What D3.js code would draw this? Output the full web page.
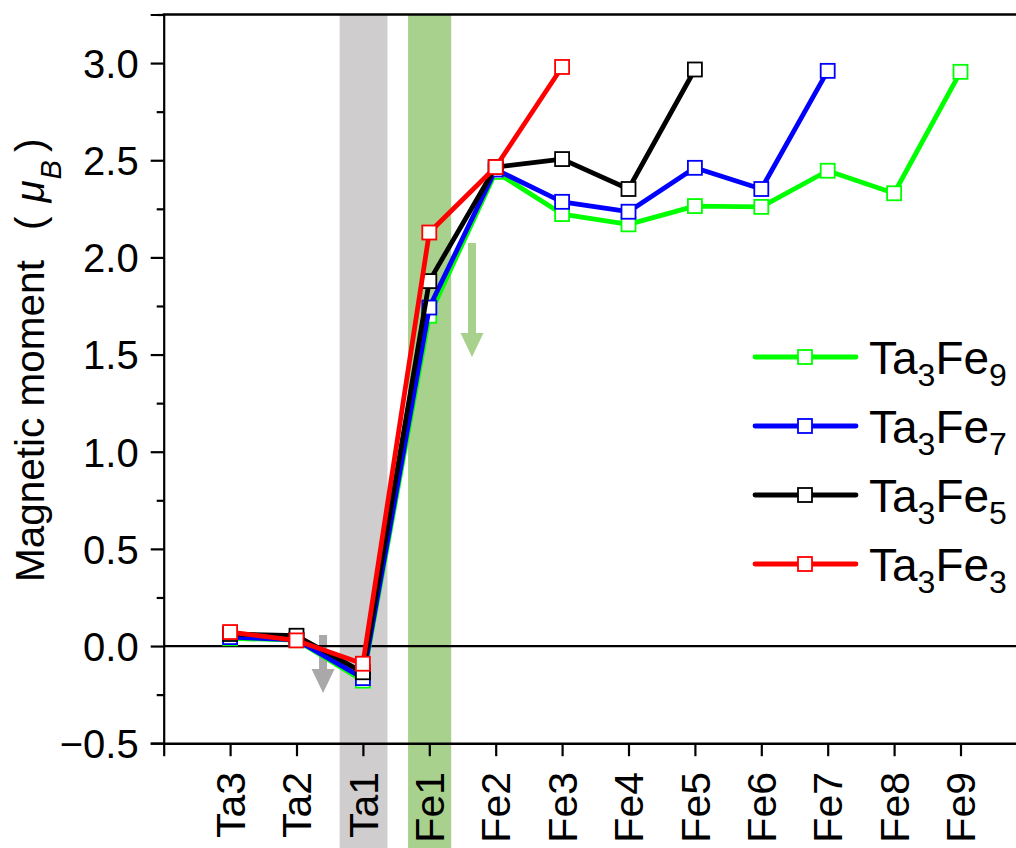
<!DOCTYPE html>
<html>
<head>
<meta charset="utf-8">
<script src="https://cdn.jsdelivr.net/npm/d3@7"></script>
<style>
  html, body { margin: 0; padding: 0; background: #fff; }
  svg { display: block; }
  text { font-family: "Liberation Sans", Arial, Helvetica, sans-serif; fill: #000; }
</style>
</head>
<body>
<svg id="chart" width="1016" height="848"></svg>
<script>
// Atomic sites along the Ta/Fe stack
const categories = ["Ta3", "Ta2", "Ta1", "Fe1", "Fe2", "Fe3", "Fe4", "Fe5", "Fe6", "Fe7", "Fe8", "Fe9"];

// Site-resolved magnetic moments (μB) for each multilayer
const ta3fe9 = [0.040, 0.030, -0.178, 1.700, 2.440, 2.223, 2.170, 2.264, 2.260, 2.446, 2.330, 2.955];
const ta3fe7 = [0.046, 0.032, -0.165, 1.742, 2.452, 2.286, 2.235, 2.461, 2.352, 2.960];
const ta3fe5 = [0.062, 0.053, -0.135, 1.878, 2.465, 2.506, 2.352, 2.967];
const ta3fe3 = [0.072, 0.029, -0.091, 2.128, 2.465, 2.980];

// Legend / drawing order (first drawn at the bottom)
const seriesNames  = ["Ta3Fe9", "Ta3Fe7", "Ta3Fe5", "Ta3Fe3"];
const seriesValues = [ta3fe9, ta3fe7, ta3fe5, ta3fe3];
const seriesSubs   = [["3", "9"], ["3", "7"], ["3", "5"], ["3", "3"]];

// Y axis ticks
const yMajorTicks = [-0.5, 0.0, 0.5, 1.0, 1.5, 2.0, 2.5, 3.0];
const yMinorTicks = [-0.25, 0.25, 0.75, 1.25, 1.75, 2.25, 2.75, 3.25];

// Highlighted interface sites and trend arrows (category index, moment)
const bandSites   = ["Ta1", "Fe1"];
const arrowX      = [1.40, 3.643];
const arrowTop    = [0.057, 2.074];
const arrowTip    = [-0.242, 1.487];

// ---------- styling ----------
const colors     = ["#00ff00", "#0000ff", "#000000", "#ff0000"];
const bandColors = ["#cfcdcd", "#a9d18e"];
const bandHalf   = [[0.35, 0.37], [0.32, 0.33]];
const arrowColors = ["#aaa8a8", "#a9d18e"];

const svg = d3.select("#chart");
const W = 1016, H = 848;

const x = d3.scaleLinear().domain([-1, 13]).range([163.7, 163.7 + 14 * 66.4]);
const y = d3.scaleLinear().domain([-0.5, 3.25]).range([743.2, 14.5]);
const idx = name => categories.indexOf(name);

// shaded interface bands
svg.append("g").selectAll("rect")
  .data(bandSites)
  .join("rect")
  .attr("x", (d, i) => x(idx(d) - bandHalf[i][0]))
  .attr("width", (d, i) => x(idx(d) + bandHalf[i][1]) - x(idx(d) - bandHalf[i][0]))
  .attr("y", y(3.25))
  .attr("height", H - y(3.25))
  .attr("fill", (d, i) => bandColors[i]);

// trend arrows
const arrowG = svg.append("g");
arrowX.forEach((ax, i) => {
  const cx = x(ax), top = y(arrowTop[i]), tip = y(arrowTip[i]);
  const shaftHalf = 4, headHalf = 11.5, headLen = 24;
  const path = d3.path();
  path.moveTo(cx - shaftHalf, top);
  path.lineTo(cx + shaftHalf, top);
  path.lineTo(cx + shaftHalf, tip - headLen);
  path.lineTo(cx + headHalf, tip - headLen);
  path.lineTo(cx, tip);
  path.lineTo(cx - headHalf, tip - headLen);
  path.lineTo(cx - shaftHalf, tip - headLen);
  path.closePath();
  arrowG.append("path").attr("d", path.toString()).attr("fill", arrowColors[i]);
});

// zero reference line
svg.append("line")
  .attr("x1", x(-1)).attr("x2", W)
  .attr("y1", y(0)).attr("y2", y(0))
  .attr("stroke", "#000").attr("stroke-width", 2.2);

// top frame
svg.append("line")
  .attr("x1", x(-1) - 1).attr("x2", W)
  .attr("y1", y(3.25)).attr("y2", y(3.25))
  .attr("stroke", "#000").attr("stroke-width", 2.6);

// y axis (major + minor)
const yAxisG = svg.append("g").attr("transform", `translate(${x(-1)},0)`)
  .call(d3.axisLeft(y).tickValues(yMajorTicks).tickSize(13).tickPadding(12)
    .tickFormat(d => d < 0 ? "\u2212" + Math.abs(d).toFixed(1) : d.toFixed(1)));
yAxisG.select(".domain").attr("stroke-width", 2.2);
yAxisG.selectAll(".tick line").attr("stroke-width", 2.2);
yAxisG.selectAll(".tick text").attr("font-size", 40)
  .attr("font-family", "'Liberation Sans', Arial, sans-serif").attr("dy", "0.36em");

const yMinorG = svg.append("g").attr("transform", `translate(${x(-1)},0)`)
  .call(d3.axisLeft(y).tickValues(yMinorTicks).tickSize(7).tickFormat(""));
yMinorG.select(".domain").remove();
yMinorG.selectAll(".tick line").attr("stroke-width", 2.2);

// x axis
const xAxisG = svg.append("g").attr("transform", `translate(0,${y(-0.5)})`)
  .call(d3.axisBottom(x).tickValues(d3.range(-1, 13)).tickSize(13).tickSizeOuter(0).tickFormat(""));
xAxisG.select(".domain").attr("stroke-width", 2.4);
xAxisG.selectAll(".tick line").attr("stroke-width", 2.2);

// rotated category labels
svg.append("g").selectAll("text")
  .data(categories)
  .join("text")
  .attr("transform", (d, i) => `translate(${x(i)},772) rotate(-90)`)
  .attr("text-anchor", "end")
  .attr("dy", "0.36em")
  .attr("font-size", 41)
  .text(d => d);

// y axis title
const title = svg.append("text")
  .attr("transform", "translate(44,582) rotate(-90)")
  .attr("font-size", 40.5);
title.append("tspan").text("Magnetic moment");
title.append("tspan").attr("dx", 30).text("(");
title.append("tspan").attr("dx", 14).attr("font-style", "italic").text("\u03bc");
title.append("tspan").attr("font-style", "italic").attr("font-size", 29).attr("dx", 1).attr("dy", 17).text("B");
title.append("tspan").attr("dx", 8).attr("dy", -17).text(")");

// series lines and markers
const line = d3.line().x((d, i) => x(i)).y(d => y(d));
const plotG = svg.append("g");
seriesValues.forEach((vals, s) => {
  plotG.append("path")
    .attr("d", line(vals))
    .attr("fill", "none")
    .attr("stroke", colors[s])
    .attr("stroke-width", 4.8)
    .attr("stroke-linejoin", "round");
  plotG.append("g").selectAll("rect")
    .data(vals)
    .join("rect")
    .attr("x", (d, i) => x(i) - 7)
    .attr("y", d => y(d) - 7)
    .attr("width", 14).attr("height", 14)
    .attr("fill", "#fff")
    .attr("stroke", colors[s])
    .attr("stroke-width", 1.8);
});

// legend
const legend = svg.append("g");
const legendY = d3.scaleLinear().domain([0, 3]).range([357, 564]);
seriesNames.forEach((name, s) => {
  const ly = legendY(s);
  legend.append("line")
    .attr("x1", 755).attr("x2", 856).attr("y1", ly).attr("y2", ly)
    .attr("stroke", colors[s]).attr("stroke-width", 4.8).attr("stroke-linecap", "round");
  legend.append("rect")
    .attr("x", 805 - 7).attr("y", ly - 7).attr("width", 14).attr("height", 14)
    .attr("fill", "#fff").attr("stroke", colors[s]).attr("stroke-width", 1.8);
  const t = legend.append("text").attr("x", 869).attr("y", ly).attr("dy", "0.36em").attr("font-size", 46);
  t.append("tspan").text("Ta");
  t.append("tspan").attr("font-size", 32).attr("dy", 12).text(seriesSubs[s][0]);
  t.append("tspan").attr("dy", -12).text("Fe");
  t.append("tspan").attr("font-size", 32).attr("dy", 12).text(seriesSubs[s][1]);
});
</script>
</body>
</html>
